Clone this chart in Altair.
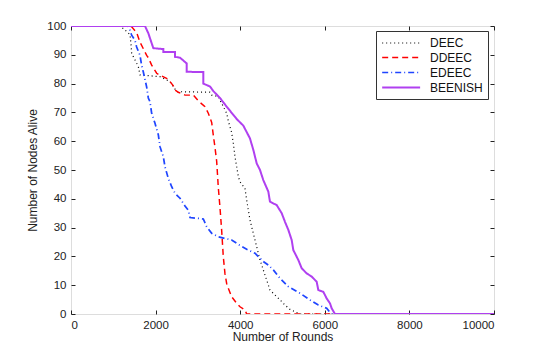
import altair as alt
import pandas as pd

series_names = ["DEEC", "DDEEC", "EDEEC", "BEENISH"]
series_colors = ["#000000", "#ff0000", "#1f45ff", "#b040f0"]
series_dash = [[1, 3], [6, 4], [6, 3, 1, 3], [1, 0]]
series_width = [1.2, 2.0, 1.8, 2.0]

x_ticks = [0, 2000, 4000, 6000, 8000, 10000]
y_ticks = [0, 10, 20, 30, 40, 50, 60, 70, 80, 90, 100]

deec_x = [0, 1150, 1250, 1395, 1420, 1434, 1513, 1592, 1631, 2104, 2340, 2499, 3286, 3326, 3482, 3600,
          3680, 3719, 3798, 3837, 3877, 3917, 3956, 3995, 4113, 4153, 4192, 4232, 4310, 4389, 4468,
          4546, 4626, 4704, 4823, 4941, 5059, 5177, 5296, 5400, 10000]
deec_y = [100, 100, 99, 97, 93.4, 90.5, 88.2, 85.9, 83, 82.4, 80.7, 77.2, 77, 76, 75.5, 72,
          69.7, 67, 63, 59.3, 54.6, 51.1, 47.7, 45.9, 43.6, 39.6, 36.1, 32.6, 28, 23.4, 18.75,
          15.3, 11.8, 8.3, 6.6, 4.9, 3.1, 1.6, 0.8, 0, 0]

ddeec_x = [0, 1400, 1434, 1552, 1631, 1710, 1789, 1828, 1907, 2025, 2065, 2261, 2300, 2419, 2459,
           2537, 2695, 2892, 3010, 3168, 3246, 3326, 3365, 3404, 3444, 3482, 3522, 3562, 3600, 3640,
           3680, 3719, 3798, 3917, 3995, 4113, 4153, 10000]
ddeec_y = [100, 100, 99.7, 97.7, 94.4, 92.1, 89.8, 89, 86.4, 83.6, 83.2, 81.8, 81.5, 79.2, 77.8,
           77, 76, 76, 74, 72, 69.7, 66.5, 62, 57.8, 53, 44, 37, 29, 20, 14,
           10.6, 8.9, 6, 3.7, 2.5, 1.4, 0, 0]

edeec_x = [0, 1350, 1395, 1434, 1513, 1552, 1631, 1670, 1710, 1789, 1828, 1867, 1907, 1986, 2065,
           2104, 2183, 2222, 2300, 2380, 2459, 2577, 2695, 2774, 2814, 3128, 3207, 3326, 3482, 3798,
           3995, 4153, 4350, 4546, 4665, 4783, 4941, 5138, 5414, 5650, 5847, 6044, 6123, 6163, 10000]
edeec_y = [100, 100, 98.5, 96.8, 95, 92.7, 89.8, 86.4, 84, 78.8, 75, 73.7, 69.7, 66.2, 62.2,
           58.1, 54.6, 51.1, 47.1, 44.2, 41.9, 40.2, 37.5, 36, 33.5, 33, 30.3, 28, 26.8, 25.7,
           23.8, 22.5, 21.1, 18.2, 17, 15.3, 12.4, 9.5, 7.2, 4.9, 3.1, 2, 0.5, 0, 0]

beenish_x = [0, 1749, 1828, 1946, 2183, 2183, 2459, 2459, 2577, 2735, 2735, 3128, 3128, 3286, 3365,
             3522, 3680, 3917, 4074, 4230, 4310, 4390, 4468, 4546, 4665, 4704, 4863, 4981, 5059, 5138,
             5217, 5256, 5374, 5453, 5571, 5690, 5808, 5847, 5965, 6044, 6123, 6162, 6241, 10000]
beenish_y = [100, 100, 97.5, 92.3, 92, 91, 91, 89.3, 89, 87, 84.1, 84, 80, 79, 77.4,
             75, 72, 67.7, 65.4, 61, 57, 52.3, 50, 46.5, 42.5, 39, 37.8, 35, 32, 29.2,
             25.7, 22.2, 18.75, 15.9, 14.1, 13, 11.2, 8.3, 7.7, 5.4, 3.7, 2, 0, 0]

rows = []
for name, xs, ys in zip(series_names,
                        [deec_x, ddeec_x, edeec_x, beenish_x],
                        [deec_y, ddeec_y, edeec_y, beenish_y]):
    for i, (xv, yv) in enumerate(zip(xs, ys)):
        rows.append({"series": name, "rounds": xv, "alive": yv, "idx": i})
df = pd.DataFrame(rows)

FONT = "Liberation Sans"
x_scale = alt.Scale(domain=[0, 10000], nice=False, zero=False)
y_scale = alt.Scale(domain=[0, 100], nice=False, zero=False)

legend_cfg = dict(title=None, orient="none", legendX=305, legendY=5,
                  strokeColor="#333", fillColor="white", padding=5,
                  symbolType="M-1,0H5", symbolSize=160, symbolStrokeWidth=1.6,
                  labelFontSize=12, labelFont=FONT, labelColor="#111",
                  labelOffset=34, rowPadding=1, cornerRadius=0)

lines = alt.Chart(df).mark_line(clip=True).encode(
    x=alt.X("rounds:Q", scale=x_scale,
            axis=alt.Axis(title="Number of Rounds", values=x_ticks, orient="bottom", offset=-4,
                          tickSize=4, domain=False, grid=False, labelPadding=5, format="d",
                          titlePadding=1, labelFontSize=11.5, titleFontSize=12,
                          titleFontWeight="normal", labelColor="#222", titleColor="#222",
                          tickColor="#222", labelFont=FONT, titleFont=FONT)),
    y=alt.Y("alive:Q", scale=y_scale,
            axis=alt.Axis(title="Number of Nodes Alive", values=y_ticks, orient="left", offset=-4,
                          tickSize=4, domain=False, grid=False, labelPadding=5,
                          titlePadding=7, labelFontSize=11.5, titleFontSize=12,
                          titleFontWeight="normal", labelColor="#222", titleColor="#222",
                          tickColor="#222", labelFont=FONT, titleFont=FONT)),
    color=alt.Color("series:N", sort=series_names,
                    scale=alt.Scale(domain=series_names, range=series_colors),
                    legend=alt.Legend(**legend_cfg)),
    strokeDash=alt.StrokeDash("series:N", sort=series_names,
                              scale=alt.Scale(domain=series_names, range=series_dash),
                              legend=alt.Legend(**legend_cfg)),
    strokeWidth=alt.StrokeWidth("series:N", sort=series_names,
                                scale=alt.Scale(domain=series_names, range=series_width),
                                legend=None),
    order=alt.Order("idx:Q"),
)

frame = alt.Chart(df).mark_point(opacity=0).encode(
    x=alt.X("rounds:Q", scale=x_scale,
            axis=alt.Axis(title=None, values=x_ticks, orient="top", offset=-4, tickSize=4,
                          domain=False, grid=False, labels=False, tickColor="#222")),
    y=alt.Y("alive:Q", scale=y_scale,
            axis=alt.Axis(title=None, values=y_ticks, orient="right", offset=-4, tickSize=4,
                          domain=False, grid=False, labels=False, tickColor="#222")),
)

chart = alt.layer(lines, frame).resolve_axis(x="independent", y="independent").properties(
    width=423, height=288,
    autosize=alt.AutoSizeParams(type="none"),
    padding={"left": 63, "top": 18, "right": 40, "bottom": 38},
).configure_view(stroke="#222", strokeWidth=1).configure(background="white")

chart.save("out.html", embed_options={"renderer": "svg", "actions": False})
